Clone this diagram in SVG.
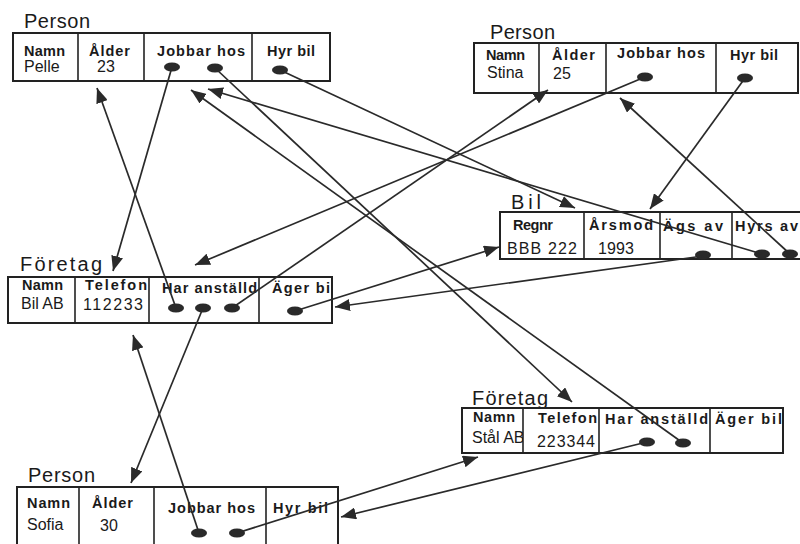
<svg xmlns="http://www.w3.org/2000/svg" width="800" height="544" viewBox="0 0 800 544">
  <style>
    .box { fill: none; stroke: #222; stroke-width: 2; }
    .div { stroke: #222; stroke-width: 1.6; }
    .ttl { font-family: "Liberation Sans", Arial, sans-serif; font-size: 20px; fill: #1a1a1a; }
    .hd { font-family: "Liberation Sans", Arial, sans-serif; font-size: 14.5px; font-weight: bold; fill: #1a1a1a; }
    .val { font-family: "Liberation Sans", Arial, sans-serif; font-size: 16px; fill: #1a1a1a; }
    .dot { fill: #2a2a2a; }
    .conn line { stroke: #2a2a2a; stroke-width: 1.7; marker-end: url(#head); }
  </style>
  <defs>
    <marker id="head" markerUnits="userSpaceOnUse" markerWidth="16" markerHeight="12" refX="15" refY="6" orient="auto">
      <path d="M0,0 L15,6 L0,12 z" fill="#2a2a2a"/>
    </marker>
    <clipPath id="clip-stal-namn"><rect x="462" y="408" width="61" height="45"/></clipPath>
  </defs>
  <rect width="800" height="544" fill="#fff"/>

  <!-- Person: Pelle -->
  <g id="person-pelle">
    <text class="ttl" x="24" y="28" textLength="66">Person</text>
    <rect class="box" x="13" y="33" width="317" height="48"/>
    <line class="div" x1="78" y1="33" x2="78" y2="81"/>
    <line class="div" x1="144" y1="33" x2="144" y2="81"/>
    <line class="div" x1="252" y1="33" x2="252" y2="81"/>
    <text class="hd" x="24" y="56" textLength="41">Namn</text>
    <text class="val" x="24" y="72">Pelle</text>
    <text class="hd" x="89" y="56" textLength="41">Ålder</text>
    <text class="val" x="97" y="72">23</text>
    <text class="hd" x="157" y="56" textLength="88">Jobbar hos</text>
    <text class="hd" x="267" y="56" textLength="48">Hyr bil</text>
    <ellipse class="dot" cx="172" cy="67" rx="8" ry="4.5"/>
    <ellipse class="dot" cx="215" cy="68" rx="8" ry="4.5"/>
    <ellipse class="dot" cx="280" cy="70" rx="8" ry="4.5"/>
  </g>

  <!-- Person: Stina -->
  <g id="person-stina">
    <text class="ttl" x="490" y="39" textLength="65">Person</text>
    <rect class="box" x="474" y="43" width="324" height="50"/>
    <line class="div" x1="539" y1="43" x2="539" y2="93"/>
    <line class="div" x1="606" y1="43" x2="606" y2="93"/>
    <line class="div" x1="716" y1="43" x2="716" y2="93"/>
    <text class="hd" x="486" y="60" textLength="39">Namn</text>
    <text class="val" x="487" y="78">Stina</text>
    <text class="hd" x="552" y="60" textLength="43">Ålder</text>
    <text class="val" x="553" y="79">25</text>
    <text class="hd" x="617" y="58" textLength="88">Jobbar hos</text>
    <text class="hd" x="730" y="60" textLength="48">Hyr bil</text>
    <ellipse class="dot" cx="645" cy="77" rx="8" ry="4.5"/>
    <ellipse class="dot" cx="745" cy="78" rx="8" ry="4.5"/>
  </g>

  <!-- Bil -->
  <g id="bil">
    <text class="ttl" x="511" y="209" textLength="30">Bil</text>
    <rect class="box" x="500" y="212" width="310" height="47"/>
    <line class="div" x1="584" y1="212" x2="584" y2="259"/>
    <line class="div" x1="660" y1="212" x2="660" y2="259"/>
    <line class="div" x1="732" y1="212" x2="732" y2="259"/>
    <text class="hd" x="513" y="230" textLength="40">Regnr</text>
    <text class="val" x="507" y="254" textLength="70">BBB 222</text>
    <text class="hd" x="589" y="230" textLength="64">Årsmod</text>
    <text class="val" x="598" y="254" textLength="36">1993</text>
    <text class="hd" x="663" y="231" textLength="60">Ägs av</text>
    <text class="hd" x="735" y="231" textLength="63">Hyrs av</text>
    <ellipse class="dot" cx="703" cy="255" rx="8" ry="4.5"/>
    <ellipse class="dot" cx="762" cy="254" rx="8" ry="4.5"/>
    <ellipse class="dot" cx="790" cy="254" rx="8" ry="4.5"/>
  </g>

  <!-- Företag: Bil AB -->
  <g id="foretag-bilab">
    <text class="ttl" x="20" y="271" textLength="82">Företag</text>
    <rect class="box" x="8" y="277" width="324" height="46"/>
    <line class="div" x1="75" y1="277" x2="75" y2="323"/>
    <line class="div" x1="149" y1="277" x2="149" y2="323"/>
    <line class="div" x1="259" y1="277" x2="259" y2="323"/>
    <text class="hd" x="22" y="290" textLength="41">Namn</text>
    <text class="val" x="21" y="309" font-size="15">Bil AB</text>
    <text class="hd" x="85" y="290" textLength="62">Telefon</text>
    <text class="val" x="83" y="310" textLength="60">112233</text>
    <text class="hd" x="162" y="293" textLength="95">Har anställd</text>
    <text class="hd" x="272" y="293" textLength="58">Äger bi</text>
    <ellipse class="dot" cx="176" cy="308" rx="8" ry="4.5"/>
    <ellipse class="dot" cx="203" cy="308" rx="8" ry="4.5"/>
    <ellipse class="dot" cx="232" cy="308" rx="8" ry="4.5"/>
    <ellipse class="dot" cx="295" cy="311" rx="8" ry="4.5"/>
  </g>

  <!-- Företag: Stål AB -->
  <g id="foretag-stalab">
    <text class="ttl" x="472" y="405" textLength="76">Företag</text>
    <rect class="box" x="462" y="408" width="321" height="45"/>
    <line class="div" x1="523" y1="408" x2="523" y2="453"/>
    <line class="div" x1="599" y1="408" x2="599" y2="453"/>
    <line class="div" x1="710" y1="408" x2="710" y2="453"/>
    <text class="hd" x="473" y="422" textLength="42">Namn</text>
    <text class="val" x="472" y="443" clip-path="url(#clip-stal-namn)">Stål AB</text>
    <text class="hd" x="538" y="423" textLength="59">Telefon</text>
    <text class="val" x="537" y="447" textLength="58">223344</text>
    <text class="hd" x="605" y="424" textLength="103">Har anställd</text>
    <text class="hd" x="715" y="424" textLength="67">Äger bil</text>
    <ellipse class="dot" cx="647" cy="442" rx="8" ry="4.5"/>
    <ellipse class="dot" cx="683" cy="443" rx="8" ry="4.5"/>
  </g>

  <!-- Person: Sofia -->
  <g id="person-sofia">
    <text class="ttl" x="28" y="482" textLength="67">Person</text>
    <rect class="box" x="17" y="487" width="321" height="62"/>
    <line class="div" x1="79" y1="487" x2="79" y2="549"/>
    <line class="div" x1="154" y1="487" x2="154" y2="549"/>
    <line class="div" x1="266" y1="487" x2="266" y2="549"/>
    <text class="hd" x="27" y="508" textLength="43">Namn</text>
    <text class="val" x="27" y="530">Sofia</text>
    <text class="hd" x="92" y="508" textLength="41">Ålder</text>
    <text class="val" x="100" y="531">30</text>
    <text class="hd" x="168" y="513" textLength="87">Jobbar hos</text>
    <text class="hd" x="273" y="513" textLength="55">Hyr bil</text>
    <ellipse class="dot" cx="199" cy="533" rx="8" ry="4.5"/>
    <ellipse class="dot" cx="237" cy="533" rx="8" ry="4.5"/>
  </g>

  <!-- references between records -->
  <g id="connectors" class="conn">
    <line x1="172" y1="67" x2="113" y2="271"/>
    <line x1="215" y1="68" x2="572" y2="402"/>
    <line x1="280" y1="70" x2="575" y2="208"/>
    <line x1="176" y1="308" x2="97" y2="88"/>
    <line x1="203" y1="308" x2="131" y2="483"/>
    <line x1="232" y1="308" x2="548" y2="90"/>
    <line x1="295" y1="311" x2="499" y2="247"/>
    <line x1="645" y1="77" x2="195" y2="265"/>
    <line x1="745" y1="78" x2="650" y2="209"/>
    <line x1="703" y1="256" x2="335" y2="307"/>
    <line x1="762" y1="254" x2="208" y2="89"/>
    <line x1="790" y1="254" x2="620" y2="98"/>
    <line x1="647" y1="442" x2="341" y2="517"/>
    <line x1="683" y1="443" x2="191" y2="90"/>
    <line x1="199" y1="533" x2="133" y2="335"/>
    <line x1="237" y1="533" x2="478" y2="457"/>
  </g>
</svg>
